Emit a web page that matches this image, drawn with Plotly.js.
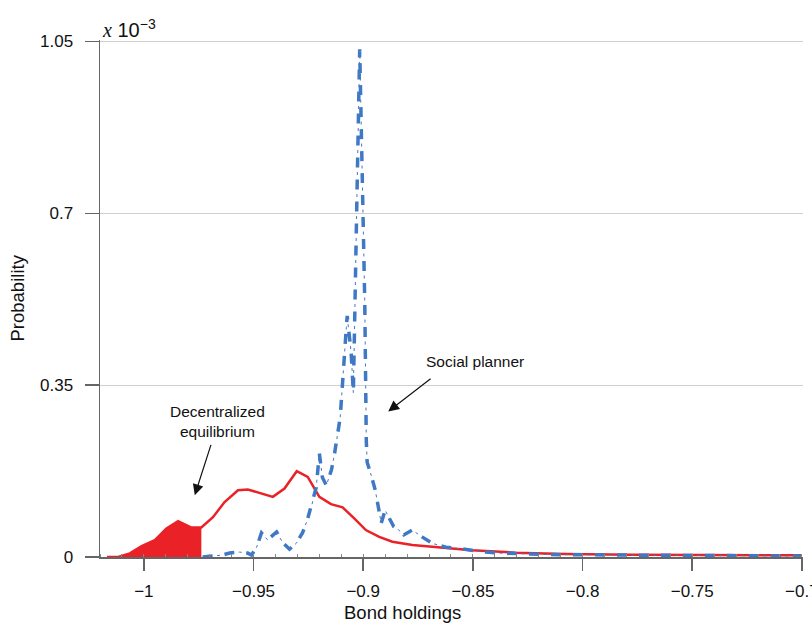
<!DOCTYPE html>
<html>
<head>
<meta charset="utf-8">
<script src="https://cdn.plot.ly/plotly-3.0.1.min.js"></script>
<style>html,body{margin:0;padding:0;background:#fff;}#chart{width:812px;height:629px;}</style>
</head>
<body>
<div id="chart"></div>
<script>
// Decentralized equilibrium (red), probability in units of 1e-3
const redX = [-1.0168, -1.0117, -1.0064, -1.001, -0.995, -0.9897, -0.9844, -0.9783, -0.9738, -0.9685, -0.9632, -0.9571, -0.9526, -0.9412, -0.9359, -0.9303, -0.9253, -0.9200, -0.9147, -0.9094, -0.9041, -0.8988, -0.8927, -0.8867, -0.8776, -0.8686, -0.8505, -0.8306, -0.8079, -0.7777, -0.7473, -0.7000];
const redY = [0, 0, 0.0075, 0.022, 0.0345, 0.058, 0.073, 0.060, 0.060, 0.081, 0.112, 0.136, 0.1375, 0.1225, 0.1395, 0.1747, 0.163, 0.1225, 0.1076, 0.101, 0.0786, 0.0548, 0.041, 0.031, 0.0244, 0.021, 0.014, 0.0088, 0.006, 0.0047, 0.004, 0.0035];
const fillEnd = -0.9738;

// Social planner (blue)
const blueX = [-0.9732, -0.9677, -0.9641, -0.9609, -0.9564, -0.9527, -0.9509, -0.9486, -0.9464, -0.9436, -0.9418, -0.9395, -0.9368, -0.9336, -0.9305, -0.9277, -0.9255, -0.9232, -0.9214, -0.9200, -0.9186, -0.9168, -0.9145, -0.9132, -0.9118, -0.9105, -0.9095, -0.9086, -0.9077, -0.9073, -0.9064, -0.9055, -0.9045, -0.9036, -0.9027, -0.9016, -0.9005, -0.8993, -0.8986, -0.8982, -0.8964, -0.8945, -0.8927, -0.8918, -0.8900, -0.8884, -0.8861, -0.8838, -0.8815, -0.8777, -0.8755, -0.8732, -0.8686, -0.8623, -0.8577, -0.8518, -0.8441, -0.8382, -0.8155, -0.7836, -0.7473, -0.7005];
const blueY = [0, 0.002, 0.004, 0.008, 0.010, 0.008, 0.004, 0.020, 0.049, 0.035, 0.043, 0.051, 0.030, 0.016, 0.028, 0.049, 0.075, 0.110, 0.142, 0.211, 0.162, 0.146, 0.177, 0.207, 0.244, 0.284, 0.349, 0.420, 0.467, 0.491, 0.447, 0.416, 0.335, 0.522, 0.772, 1.034, 0.772, 0.522, 0.238, 0.193, 0.167, 0.136, 0.092, 0.069, 0.095, 0.082, 0.062, 0.055, 0.045, 0.055, 0.049, 0.041, 0.028, 0.020, 0.018, 0.014, 0.010, 0.008, 0.005, 0.004, 0.003, 0.002];

const xTickVals = [-1, -0.95, -0.9, -0.85, -0.8, -0.75, -0.7];
const xTickText = ['\u22121', '\u22120.95', '\u22120.9', '\u22120.85', '\u22120.8', '\u22120.75', '\u22120.7'];
const yTickVals = [0, 0.35, 0.7, 1.05];
const yTickText = ['0', '0.35', '0.7', '1.05'];

const RED = '#ea2127';
const BLUE = '#3f78c5';
const TXT = '#111';

const fillX = [], fillY = [];
redX.forEach((v, i) => { if (v <= fillEnd + 1e-9) { fillX.push(v); fillY.push(redY[i]); } });

const traces = [
  {x: fillX, y: fillY, type: 'scatter', mode: 'lines', fill: 'tozeroy', fillcolor: RED, line: {width: 0, color: RED}, hoverinfo: 'skip', showlegend: false},
  {x: redX, y: redY, type: 'scatter', mode: 'lines', line: {color: RED, width: 2.5}, showlegend: false},
  {x: blueX, y: blueY, type: 'scatter', mode: 'lines', line: {color: BLUE, width: 3.5, dash: '10px,12px'}, showlegend: false},
  {x: blueX, y: blueY, type: 'scatter', mode: 'lines', line: {color: BLUE, width: 1, dash: '0px,14.5px,3px,4.5px'}, showlegend: false}
];

const FONT = 'Liberation Sans, Arial, sans-serif';
const layout = {
  width: 812, height: 629,
  margin: {l: 100, r: 9, t: 40, b: 72, pad: 0},
  paper_bgcolor: '#fff', plot_bgcolor: '#fff',
  font: {family: FONT, color: TXT, size: 16},
  showlegend: false,
  xaxis: {
    range: [-1.02, -0.6995], tickmode: 'array', tickvals: xTickVals, ticktext: xTickText,
    ticks: 'outside', ticklen: 12, tickwidth: 1.5, tickcolor: '#666',
    showline: true, linecolor: '#666', linewidth: 1.5, showgrid: false, zeroline: false,
    tickfont: {size: 17, family: FONT, color: TXT}, ticklabelstandoff: 6, ticklabeloverflow: 'allow',
    minor: {tickmode: 'linear', tick0: -1, dtick: 0.01, ticks: 'inside', ticklen: 3, tickcolor: '#888', tickwidth: 1}
  },
  yaxis: {
    range: [0, 1.053], tickmode: 'array', tickvals: yTickVals, ticktext: yTickText,
    ticks: 'outside', ticklen: 14, tickwidth: 1.5, tickcolor: '#666',
    showline: true, linecolor: '#666', linewidth: 1.5, showgrid: true, gridcolor: '#cfcfcf', gridwidth: 1, zeroline: false,
    tickfont: {size: 17, family: FONT, color: TXT}, ticklabelstandoff: 8
  },
  annotations: [
    {xref: 'paper', yref: 'paper', x: 0.43, y: 0, yshift: -55, xanchor: 'center', yanchor: 'middle', text: 'Bond holdings', showarrow: false, font: {size: 18.5, family: FONT, color: TXT}},
    {xref: 'paper', yref: 'paper', x: 0, y: 0.5, xshift: -83, xanchor: 'center', yanchor: 'middle', textangle: -90, text: 'Probability', showarrow: false, font: {size: 18.5, family: FONT, color: TXT}},
    {xref: 'paper', yref: 'paper', x: 0, y: 1, xanchor: 'left', yanchor: 'bottom', yshift: -3, text: "<span style='font-family:Liberation Serif'><i>x</i></span> 10<sup>\u22123</sup>", showarrow: false, font: {size: 20, family: FONT, color: TXT}},
    {x: -0.8491, y: 0.398, text: 'Social planner', showarrow: false, font: {size: 15.5, family: FONT, color: TXT}},
    {x: -0.9664, y: 0.276, text: 'Decentralized<br>equilibrium', showarrow: false, font: {size: 15.5, family: FONT, color: TXT}},
    {x: -0.8886, y: 0.2965, ax: -0.8686, ay: 0.3656, axref: 'x', ayref: 'y', text: '', showarrow: true, arrowhead: 2, arrowsize: 1.8, arrowwidth: 1.2, arrowcolor: '#111'},
    {x: -0.9768, y: 0.126, ax: -0.9692, ay: 0.2315, axref: 'x', ayref: 'y', text: '', showarrow: true, arrowhead: 2, arrowsize: 1.8, arrowwidth: 1.2, arrowcolor: '#111'}
  ]
};

Plotly.newPlot('chart', traces, layout, {displayModeBar: false, staticPlot: true});
</script>
</body>
</html>
